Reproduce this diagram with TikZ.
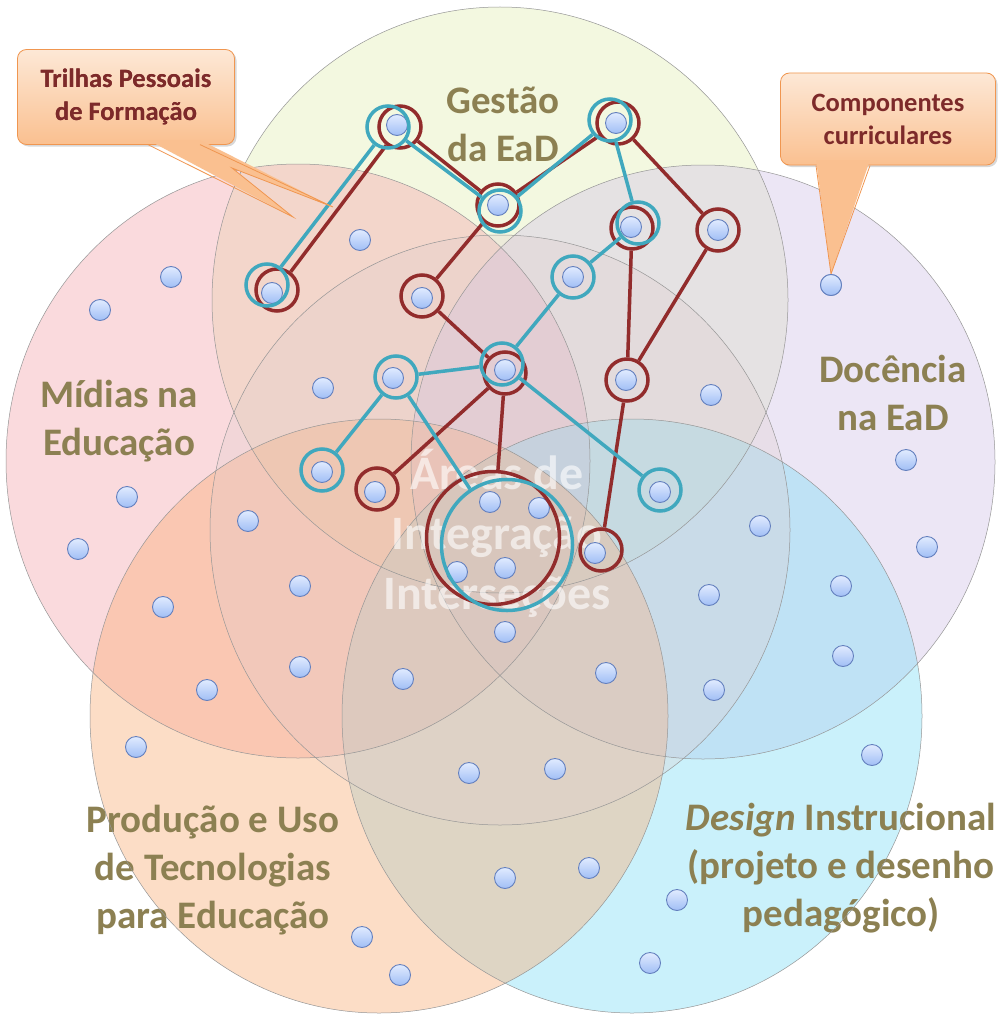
\documentclass[tikz,border=0pt]{standalone}
\usepackage{fontspec}
\setmainfont{Carlito}
\usetikzlibrary{shadows}
\definecolor{labelolive}{RGB}{140,128,82}
\definecolor{trailred}{RGB}{146,44,44}
\definecolor{trailcyan}{RGB}{64,168,190}
\definecolor{calloutorange}{RGB}{240,150,80}
\definecolor{callouttop}{RGB}{253,232,214}
\definecolor{calloutbottom}{RGB}{250,192,144}
\definecolor{callouttext}{RGB}{125,42,42}
\definecolor{dottop}{RGB}{225,235,255}
\definecolor{dotbottom}{RGB}{160,190,245}
\definecolor{dotedge}{RGB}{100,128,190}
\definecolor{gestaofill}{RGB}{228,240,182}
\definecolor{midiasfill}{RGB}{245,168,176}
\definecolor{docenciafill}{RGB}{212,197,232}
\definecolor{producaofill}{RGB}{250,175,120}
\definecolor{designfill}{RGB}{130,222,247}
\definecolor{centralfill}{RGB}{225,205,205}
\definecolor{areaedge}{RGB}{150,150,150}
\tikzset{
    area/.style = {draw=areaedge, line width=0.5pt},
    area-fill/.style = {fill opacity=0.42},
    area-label/.style = {text=labelolive, inner sep=0pt, align=center, font=\fontsize{39}{48}\selectfont\bfseries},
    central-label/.style = {text=white, text opacity=0.6, inner sep=0pt, align=center, font=\fontsize{48}{60}\selectfont\bfseries},
    comp-dot/.style = {circle, draw=dotedge, line width=0.9pt, top color=dottop, bottom color=dotbottom, minimum size=21pt, inner sep=0pt},
    red-ring/.style = {circle, draw=trailred, line width=3.5pt, minimum size=42pt, inner sep=0pt},
    cyan-ring/.style = {circle, draw=trailcyan, line width=3.5pt, minimum size=42pt, inner sep=0pt},
    red-trail/.style = {draw=trailred, line width=3.5pt},
    cyan-trail/.style = {draw=trailcyan, line width=3.5pt},
    callout-box/.style = {draw=calloutorange, line width=0.8pt, top color=callouttop, bottom color=calloutbottom, rounded corners=9pt, text=callouttext, align=center, inner sep=0pt, font=\fontsize{26.5}{33}\selectfont\bfseries, drop shadow={shadow xshift=2pt, shadow yshift=-2pt, opacity=0.3}},
    callout-tail/.style = {fill=calloutbottom, draw=calloutorange, line width=0.8pt, line join=miter},
}

\begin{document}
\begin{tikzpicture}[x=1pt, y=-1pt]
\path[use as bounding box, fill=white] (0,0) rectangle (998,1014);
\clip (0,0) rectangle (998,1014);

\fill[gestaofill, area-fill] (500,300) ellipse [x radius=288, y radius=293];
\fill[midiasfill, area-fill] (298,461) ellipse [x radius=292, y radius=297];
\fill[docenciafill, area-fill] (703,462) ellipse [x radius=292, y radius=297];
\fill[designfill, area-fill] (632,716) ellipse [x radius=290, y radius=297];
\fill[producaofill, area-fill] (379,716) ellipse [x radius=289, y radius=297];
\fill[centralfill, area-fill, fill opacity=0.3] (500,530) ellipse [x radius=290, y radius=295];

\node[area-label] (gestao) at (503,124) {Gestão\\da EaD};
\node[area-label] (midias) at (119,421) {Mídias na\\Educação};
\node[area-label] (docencia) at (893,393) {Docência\\na EaD};
\node[area-label] (producao) at (213,870) {Produção e Uso\\de Tecnologias\\para Educação};
\node[area-label] (design) at (841,868) {\textit{Design} Instrucional\\(projeto e desenho\\pedagógico)};

\draw[area] (500,300) ellipse [x radius=288, y radius=293];
\draw[area] (298,461) ellipse [x radius=292, y radius=297];
\draw[area] (703,462) ellipse [x radius=292, y radius=297];
\draw[area] (379,716) ellipse [x radius=289, y radius=297];
\draw[area] (632,716) ellipse [x radius=290, y radius=297];
\draw[area] (500,530) ellipse [x radius=290, y radius=295];

\node[central-label] (central) at (497,533) {Áreas de\\Integração\\Interseções};

\foreach \x/\y [count=\i] in {397/125, 616/123, 498/205, 631/227, 718/230, 360/240, 171/277, 272/293,
    573/277, 831/285, 422/298, 100/310, 505/370, 393/378, 323/388, 626/380, 711/395, 906/460,
    322/472, 375/492, 127/497, 660/492, 490/502, 539/508, 248/521, 760/526, 78/549, 927/547,
    595/553, 457/572, 505/568, 300/586, 841/586, 709/595, 163/607, 505/632, 843/656, 300/667,
    606/673, 403/679, 207/690, 714/690, 136/747, 872/755, 469/773, 555/769, 589/868, 505/878,
    677/900, 362/937, 650/963, 400/975}
    \node[comp-dot] (d\i) at (\x,\y) {};

\foreach \n/\x/\y in {1/400/127, 2/618/123, 3/498/205, 4/632/228, 5/718/230, 8/277/290,
    11/422/296, 13/505/373, 16/627/380, 20/377/489, 29/601/550}
    \node[red-ring] (r\n) at (\x,\y) {};
\node[red-ring, minimum size=133pt] (rbig) at (493,538) {};
\foreach \a/\b in {8/1, 1/3, 3/2, 2/5, 5/16, 16/4, 3/11, 11/13, 13/20, 13/big, 16/29}
    \draw[red-trail] (r\a) -- (r\b);

\foreach \n/\x/\y in {1/388/127, 2/610/120, 3/500/211, 4/638/223, 8/267/285, 9/573/277,
    13/502/364, 14/396/377, 19/322/470, 22/660/490}
    \node[cyan-ring] (c\n) at (\x,\y) {};
\node[cyan-ring, minimum size=131pt] (cbig) at (507,545) {};
\foreach \a/\b in {8/1, 1/3, 3/2, 2/4, 4/9, 9/13, 13/14, 14/19, 14/big, 13/22}
    \draw[cyan-trail] (c\a) -- (c\b);

\coordinate (trilhas-tip-a) at (293,217);
\coordinate (trilhas-tip-b) at (333,207);
\coordinate (trilhas-fork) at (232,168);
\node[callout-box, minimum width=217pt, minimum height=95pt] (trilhas) at (126,97) {Trilhas Pessoais\\de Formação};
\fill[callout-tail, draw=none] (148,140) -- (trilhas-tip-a) -- (trilhas-fork) -- (trilhas-tip-b) -- (200,140) -- cycle;
\draw[callout-tail, fill=none] (148,144.6) -- (trilhas-tip-a) -- (trilhas-fork) -- (trilhas-tip-b) -- (200,144.6);
\node[text=callouttext, align=center, font=\fontsize{26.5}{33}\selectfont\bfseries] at (trilhas) {Trilhas Pessoais\\de Formação};

\node[callout-box, minimum width=215pt, minimum height=92pt] (componentes) at (888,119) {Componentes\\curriculares};
\fill[callout-tail, draw=none] (816,160) -- (d10.north) -- (870,160) -- cycle;
\draw[callout-tail, fill=none] (816,165.6) -- (d10.north) -- (870,165.6);
\node[comp-dot] at (d10) {};
\end{tikzpicture}
\end{document}
